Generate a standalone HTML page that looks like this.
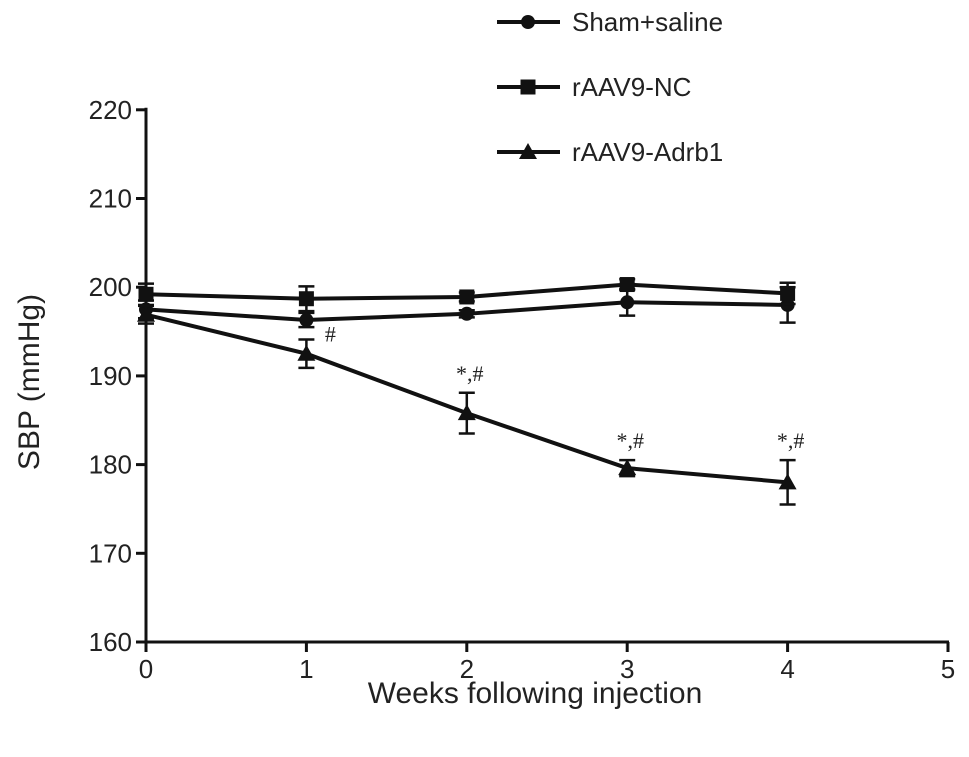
<!DOCTYPE html>
<html><head><meta charset="utf-8"><style>
html,body{margin:0;padding:0;background:#fff;}
svg{display:block;font-family:"Liberation Sans",Arial,sans-serif;}
</style></head><body>
<svg id="chart" width="969" height="757" viewBox="0 0 969 757">
<g id="axes"></g><g id="series"></g><g id="legend"></g>
</svg>
<script>
const weeks=[0,1,2,3,4];
const xTicks=[0,1,2,3,4,5];
const yTicks=[160,170,180,190,200,210,220];
const seriesNames=["Sham+saline","rAAV9-NC","rAAV9-Adrb1"];
const markers=["circle","square","triangle"];
const shamVals=[197.5,196.3,197.0,198.3,198.0];
const shamErr=[1.0,0.8,0.4,1.5,2.0];
const ncVals=[199.2,198.7,198.9,200.3,199.3];
const ncErr=[1.2,1.4,0.5,0.6,1.2];
const adrbVals=[196.9,192.5,185.8,179.6,178.0];
const adrbErr=[1.0,1.6,2.3,0.9,2.5];
const sigLabels=["","#","*,#","*,#","*,#"];

const NS="http://www.w3.org/2000/svg";
const X=v=>146+v*160.4;
const Y=v=>642-(v-160)*8.87;
function mk(tag,attrs,parent){const e=document.createElementNS(NS,tag);for(const k in attrs)e.setAttribute(k,attrs[k]);parent.appendChild(e);return e;}
const axes=document.getElementById('axes'),ser=document.getElementById('series'),leg=document.getElementById('legend');

let a=mk('line',{x1:X(0),y1:Y(220)-2,x2:X(0),y2:Y(160)+1,stroke:'#111','stroke-width':3},axes);

a=mk('line',{x1:X(0)-1,y1:Y(160),x2:X(5)+1,y2:Y(160),stroke:'#111','stroke-width':3},axes);

yTicks.forEach(v=>{
 mk('line',{x1:X(0)-10,y1:Y(v),x2:X(0),y2:Y(v),stroke:'#111','stroke-width':3},axes);
 const t=mk('text',{x:X(0)-14,y:Y(v)+9,'text-anchor':'end','font-size':26,fill:'#222'},axes);t.textContent=v;
 
});
xTicks.forEach(v=>{
 mk('line',{x1:X(v),y1:Y(160),x2:X(v),y2:Y(160)+10,stroke:'#111','stroke-width':3},axes);
 const t=mk('text',{x:X(v),y:Y(160)+36,'text-anchor':'middle','font-size':26,fill:'#222'},axes);t.textContent=v;
 
});
let t=mk('text',{x:535,y:703,'text-anchor':'middle','font-size':30,fill:'#222'},axes);t.textContent='Weeks following injection';

t=mk('text',{x:0,y:0,transform:'translate(39,382) rotate(-90)','text-anchor':'middle','font-size':30,fill:'#222'},axes);t.textContent='SBP (mmHg)';


function marker(type,x,y,p){
 if(type==='circle')return mk('circle',{cx:x,cy:y,r:7,fill:'#111'},p);
 if(type==='square')return mk('rect',{x:x-7.5,y:y-7.5,width:15,height:15,fill:'#111'},p);
 return mk('polygon',{points:`${x},${y-9} ${x-9},${y+7} ${x+9},${y+7}`,fill:'#111'},p);
}
const allVals=[shamVals,ncVals,adrbVals],allErr=[shamErr,ncErr,adrbErr];
allVals.forEach((vals,si)=>{
 const g=mk('g',{},ser);
 
 
 const pl=mk('polyline',{points:weeks.map((w,i)=>X(w)+','+Y(vals[i])).join(' '),fill:'none',stroke:'#111','stroke-width':4},g);
 
 weeks.forEach((w,i)=>{
  const x=X(w),e=allErr[si][i];
  mk('line',{x1:x,y1:Y(vals[i]+e),x2:x,y2:Y(vals[i]-e),stroke:'#111','stroke-width':2.5},g);
  mk('line',{x1:x-8,y1:Y(vals[i]+e),x2:x+8,y2:Y(vals[i]+e),stroke:'#111','stroke-width':2.5},g);
  mk('line',{x1:x-8,y1:Y(vals[i]-e),x2:x+8,y2:Y(vals[i]-e),stroke:'#111','stroke-width':2.5},g);
  const m=marker(markers[si],x,Y(vals[i]),g);
  
 });
});
weeks.forEach((w,i)=>{
 if(!sigLabels[i])return;
 const x=i===1?X(w)+24:X(w)+3;
 const yy=Y(adrbVals[i]+adrbErr[i])-(i===1?-2:12);
 const s=mk('text',{x:x,y:yy,'text-anchor':'middle','font-size':22,'font-family':'Liberation Serif, serif',fill:'#222'},ser);
 s.textContent=sigLabels[i];
 
});
seriesNames.forEach((n,i)=>{
 const y=22+i*65;
 const g=mk('g',{},leg);
 
 mk('line',{x1:497,y1:y,x2:560,y2:y,stroke:'#111','stroke-width':4},g);
 marker(markers[i],528,y,g);
 const tt=mk('text',{x:572,y:y+9,'font-size':26,fill:'#222'},g);tt.textContent=n;
});
</script>
</body></html>
